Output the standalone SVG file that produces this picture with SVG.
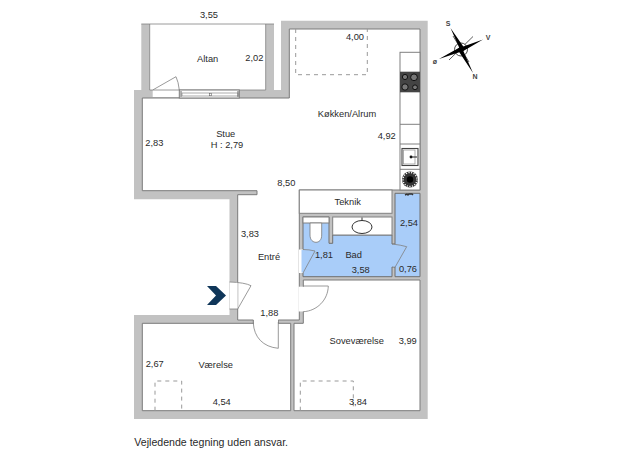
<svg xmlns="http://www.w3.org/2000/svg" width="625" height="460" viewBox="0 0 625 460">
<style>
text{font-family:"Liberation Sans",Arial,sans-serif;font-size:9.3px;fill:#2a2a2a;text-anchor:middle}
.wall{fill:#c2c2c2;stroke:none}
.room{fill:#fff;stroke:#7a7a7a;stroke-width:1}
.gap{fill:#fff;stroke:none}
.thin{fill:none;stroke:#808080;stroke-width:.8}
.box{fill:#fff;stroke:#808080;stroke-width:1}
.dash{fill:none;stroke:#999;stroke-width:1;stroke-dasharray:4 4}
.blue{fill:#a9cdf9;stroke:#6f6f6f;stroke-width:1}
</style>
<rect width="625" height="460" fill="#fff"/>
<g id="walls">
<path class="wall" d="M134 90H141.3V24H149.7V90H265.7V24H274V90H281V20.7H427.7V419H134V315H229.5V199.3H134Z"/>
<path class="thin" d="M141.3 24H274" stroke-width="1.2"/>
<path class="thin" d="M149.7 24V90H265.7V24"/>
</g>
<g id="rooms">
<path id="stue-kokken-entre" class="room" d="M142.3 98H289.3V29H420V190H299.3V320H278.3V324H253.3V320H237.7V194.7H257V190.7H142.3Z"/>
<path id="vaerelse" class="room" d="M142.3 323.3H290.7V410.7H142.3Z"/>
<path id="sovevaerelse" class="room" d="M294 323.3H303.3V280H420V410.7H294Z"/>
<rect id="teknik" class="box" x="299.3" y="190" width="92.7" height="23.3"/>
<path id="bad" class="blue" d="M303 217H329V243.3H332.7V235H392V244H395V193.3H420V276.7H395V267H392V276.7H303Z"/>
<rect class="box" x="303" y="217" width="26" height="6"/>
<rect class="box" x="332.7" y="217" width="59.3" height="18"/>
<path d="M310 223V235C310 240 313 242.3 316 242.3C319 242.3 321.7 240 321.7 235V223Z" fill="#fff" stroke="#777" stroke-width=".8"/>
<ellipse cx="362" cy="227" rx="10" ry="6.5" fill="#fff" stroke="#333" stroke-width="1"/>
<path d="M362 217.5V221" stroke="#333" stroke-width="1"/>
</g>
<g id="door-openings">
<path class="gap" d="M152.7 89H179.3V97H152.7Z"/>
<path class="gap" d="M230 282H237.7V309H230Z"/>
<path class="gap" d="M254 319H278V325H254Z"/>
<path class="gap" d="M299 249.5H303.3V273H299Z"/>
<path class="gap" d="M298.5 286.7H304V311.5H298.5Z"/>
<path d="M392.6 244.5H395V266.5H392.6Z" fill="#a9cdf9"/>
<path d="M301.5 250H304V272.5H301.5Z" fill="#a9cdf9"/>
</g>
<g id="doors" class="thin">
<path class="thin" d="M152.7 90L176 76.7Q178.5 82 179.3 90M152.7 90H179.3"/>
<path class="thin" d="M237.7 309L251 285.7Q245 282.5 229.5 282"/>
<path class="thin" d="M229.5 309H237.7"/>
<path class="thin" d="M278.3 322V348.3C263 347 254 337 253.3 323"/>
<path class="thin" d="M303 286H328.3C328 300 317 311 303.3 311.7"/>
<path class="thin" d="M303 273L315 251Q309 249.5 303 249.5"/>
<path class="thin" d="M395 267.3L406.7 246.7Q401 245 392 244"/>
</g>
<g id="sliding-door">
<rect x="179.3" y="90" width="60" height="8" fill="#fff" stroke="#7a7a7a" stroke-width="1"/>
<rect x="182" y="93" width="56" height="3" fill="#fff" stroke="#888" stroke-width=".7"/>
<rect x="209.3" y="93.3" width="2" height="2.4" fill="#fff" stroke="#666" stroke-width=".6"/>
<path d="M181 91V97M238 91V97" stroke="#666" stroke-width="1"/>
</g>
<g id="kitchen">
<rect class="box" x="400" y="52.3" width="20" height="137.7"/>
<rect x="400" y="71.7" width="20" height="20.6" fill="#444"/>
<g fill="#777" stroke="#111" stroke-width="1">
<circle cx="405" cy="77" r="2.6"/><circle cx="414" cy="77.3" r="3.4"/>
<circle cx="405" cy="87" r="3.2"/><circle cx="415" cy="87.3" r="2.4"/>
</g>
<path d="M400 124.3H420M400 144H420M400 169.3H420" stroke="#808080" stroke-width="1"/>
<rect x="402" y="148.5" width="16" height="17" fill="#fff" stroke="#444" stroke-width="1.1"/>
<rect x="403.5" y="150" width="11.5" height="14" fill="#fff" stroke="#999" stroke-width=".8"/>
<path d="M411 157H417" stroke="#222" stroke-width="1"/><circle cx="411" cy="157" r="1.4" fill="#111"/>
<circle cx="410" cy="179.5" r="8" fill="#333"/>
<circle cx="410" cy="179.5" r="7" fill="none" stroke="#fff" stroke-width="1.3" stroke-dasharray="1.2 1.4"/>
<circle cx="410" cy="179.5" r="3.2" fill="#000"/>
<path d="M405 195l2-1 1 1 1-1h3l1 1" fill="none" stroke="#333" stroke-width="1.4"/>
</g>
<g id="furniture">
<path class="dash" d="M295.7 29V74.7H367.3V29"/>
<path class="dash" d="M155 410.7V381H181.7V410.7"/>
<path class="dash" d="M300.3 410.7V381H353.3V410.7"/>
</g>
<polygon id="entry-arrow" points="207,286 216,286 226,295.5 216,305 207,305 216,295.5" fill="#0f3659"/>
<g id="compass">
<path d="M453 36L469 62M473 36.5L449 60" stroke="#333" stroke-width=".8" fill="none"/>
<circle cx="461" cy="49.5" r="6.5" fill="#fff" stroke="#333" stroke-width=".9"/>
<path d="M450.5 28L464 47.5L460 49.5ZM473 73L458.5 51L462.5 49ZM483 39.5L462.5 51.5L460.5 47.5ZM439 59L459.5 47.5L461.5 51.5Z" fill="#000"/>
<circle cx="461" cy="49.5" r="2.6" fill="#000"/>
</g>
<g id="labels">
<text x="209" y="18">3,55</text>
<text x="207.7" y="62">Altan</text>
<text x="254.3" y="61.3">2,02</text>
<text x="225.7" y="137">Stue</text>
<text x="227" y="148.3">H : 2,79</text>
<text x="154.3" y="146">2,83</text>
<text x="286.3" y="185.7">8,50</text>
<text x="355" y="40">4,00</text>
<text x="347" y="116.7">Køkken/Alrum</text>
<text x="386.7" y="139">4,92</text>
<text x="347.7" y="205">Teknik</text>
<text x="409" y="226">2,54</text>
<text x="324" y="258.3">1,81</text>
<text x="353.7" y="258">Bad</text>
<text x="360.7" y="273.3">3,58</text>
<text x="408" y="271.7">0,76</text>
<text x="250" y="236.7">3,83</text>
<text x="269" y="259.7">Entré</text>
<text x="269.3" y="315.7">1,88</text>
<text x="154.7" y="366.7">2,67</text>
<text x="215.7" y="367.7">Værelse</text>
<text x="221.7" y="405.3">4,54</text>
<text x="356.7" y="343.7">Soveværelse</text>
<text x="407.7" y="343.7">3,99</text>
<text x="358" y="405">3,84</text>
<text x="134.3" y="445.7" style="text-anchor:start;font-size:10.6px">Vejledende tegning uden ansvar.</text>
<text x="448" y="25.5" style="font-size:7px;font-weight:bold;fill:#444">S</text>
<text x="488" y="39.5" style="font-size:7px;font-weight:bold;fill:#444">V</text>
<text x="475" y="79" style="font-size:7px;font-weight:bold;fill:#444">N</text>
<text x="435" y="64" style="font-size:7px;font-weight:bold;fill:#444">ø</text>
</g>
</svg>
